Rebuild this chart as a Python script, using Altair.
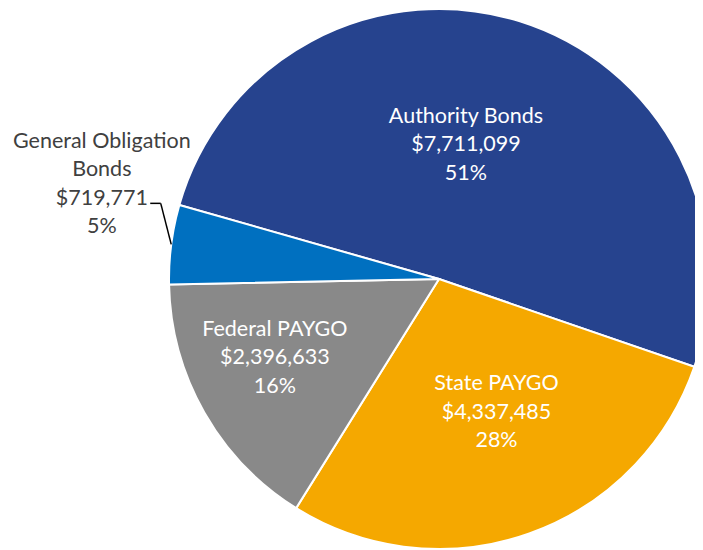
import math
import altair as alt
import pandas as pd

# ---- data ----
categories = ["Authority Bonds", "State PAYGO", "Federal PAYGO", "General Obligation Bonds"]
label_names = ["Authority Bonds", "State PAYGO", "Federal PAYGO", "General Obligation\nBonds"]
amounts = [7711099, 4337485, 2396633, 719771]
percent_labels = ["51%", "28%", "16%", "5%"]
colors = ["#26438E", "#F5A800", "#898989", "#0070C0"]

df = pd.DataFrame({
    "category": categories,
    "amount": amounts,
    "order": list(range(len(categories))),
})
df["label"] = [
    f"{n}\n${a:,}\n{p}" for n, a, p in zip(label_names, amounts, percent_labels)
]

total = sum(amounts)

# ---- layout ----
W, H = 687, 542
CX, CY = 431, 271          # pie centre in plot coordinates
R = 270                     # pie radius
START = 2 * math.pi - 1.293  # first slice starts at ~286 deg (clockwise from 12 o'clock)
FONT = "Lato"
FS = 21.5
LH = 28.5

theta_scale = alt.Scale(domain=[0, total], range=[START, START + 2 * math.pi])

base = (
    alt.Chart(df)
    .transform_window(cum="sum(amount)", sort=[alt.SortField("order")], frame=[None, 0])
    .transform_calculate(start="datum.cum - datum.amount", mid="datum.cum - datum.amount / 2")
)

arc = base.mark_arc(outerRadius=R, stroke="white", strokeWidth=2).encode(
    theta=alt.Theta("start:Q", scale=theta_scale),
    theta2="cum:Q",
    color=alt.Color("category:N", scale=alt.Scale(domain=categories, range=colors), legend=None),
    x=alt.value(CX),
    y=alt.value(CY),
)

# per-slice label placement: radius, dx, dy (block centre), colour, number of lines
label_style = {
    "Authority Bonds": (140, -15, 0, "white", 3),
    "State PAYGO": (142, 10, 0, "white", 3),
    "Federal PAYGO": (175, -12, -7, "white", 3),
    "General Obligation Bonds": (340, 0, -51, "#404040", 4),
}

layers = [arc]
for cat, (rad, dx, dy, col, n) in label_style.items():
    layers.append(
        base.transform_filter(alt.datum.category == cat)
        .mark_text(
            radius=rad, dx=dx, dy=dy - LH * (n - 1) / 2, color=col, font=FONT, fontSize=FS,
            lineBreak="\n", lineHeight=LH, align="center", baseline="middle",
        )
        .encode(
            theta=alt.Theta("mid:Q", scale=theta_scale),
            text="label:N",
            x=alt.value(CX),
            y=alt.value(CY),
        )
    )

# leader line for the small slice: from label to arc edge at the slice mid-angle
go_mid_val = sum(amounts[:3]) + amounts[3] / 2
ang = START + 2 * math.pi * go_mid_val / total
ex, ey = CX + R * math.sin(ang), CY - R * math.cos(ang)
kx, ky = ex - 10.5, ey - 41
sx = kx - 10.5
leader1 = alt.Chart(df.head(1)).mark_rule(color="#000000", strokeWidth=1.5).encode(
    x=alt.value(sx), x2=alt.value(kx), y=alt.value(ky), y2=alt.value(ky)
)
leader2 = alt.Chart(df.head(1)).mark_rule(color="#000000", strokeWidth=1.5).encode(
    x=alt.value(kx), x2=alt.value(ex), y=alt.value(ky), y2=alt.value(ey)
)
layers += [leader1, leader2]

chart = (
    alt.layer(*layers)
    .properties(width=W, height=H, padding=0, autosize=alt.AutoSizeParams(type="none"))
    .configure_view(stroke=None)
)

chart.save("out.html", embed_options={"renderer": "svg", "actions": False})
